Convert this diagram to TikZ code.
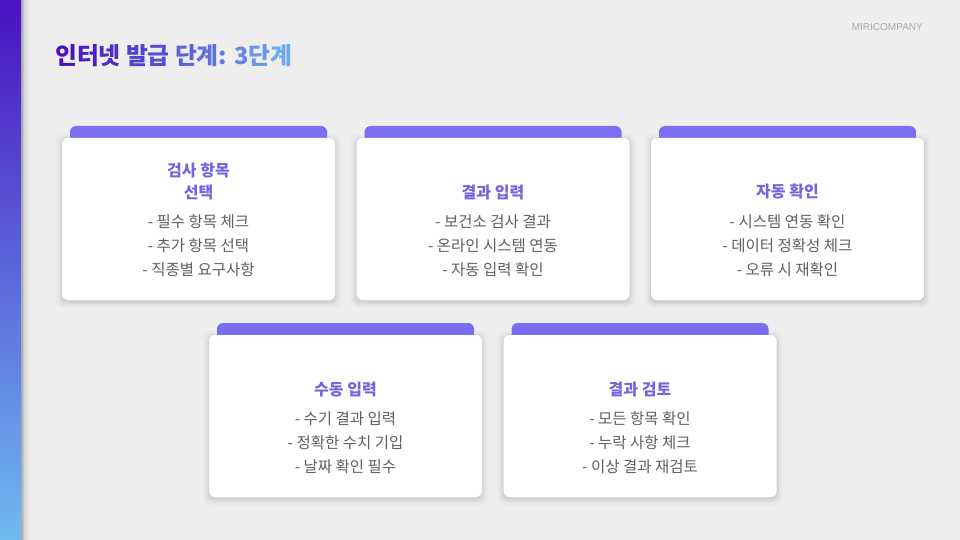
\documentclass[tikz,border=0pt]{standalone}
\usepackage{fontspec}
\setmainfont{Noto Sans CJK KR}
\newfontfamily\logofont{Liberation Sans}
\usetikzlibrary{positioning,calc}
\definecolor{pagebg}{HTML}{EEEEEE}
\definecolor{barTop}{HTML}{4A12C2}
\definecolor{barBot}{HTML}{6EBAF2}
\definecolor{tabcol}{HTML}{7B6EF0}
\definecolor{headcol}{HTML}{7365E2}
\definecolor{itemcol}{HTML}{606060}
\definecolor{logocol}{HTML}{AAAAAA}
\tikzset{
  card/.style={fill=white,rounded corners=6pt,minimum width=273pt,minimum height=162pt,inner sep=0pt},
  tab/.style={fill=tabcol,rounded corners=6pt},
  head/.style={font=\fontsize{16}{22}\selectfont\bfseries,text=headcol,align=center,inner sep=0pt},
  items/.style={font=\fontsize{15.5}{24}\selectfont,text=itemcol,align=center,inner sep=0pt},
}
% card with tab and soft shadow
\newcommand{\stepcard}[5]{%
  \foreach \s/\o in {6/0.02,4/0.025,2.5/0.03,1/0.04}
    \fill[black,opacity=\o,rounded corners=7pt] (#2-136.5-\s,#3-81-\s+2) rectangle (#2+136.5+\s,#3+81+\s+2);
  \fill[tab] (#2-128.5,#3-93) rectangle (#2+128.5,#3-70);
  \node[card] (#1) at (#2,#3) {};
  \node[items] (#1-items) at ($(#1.center)+(0,27)$) {#5};
  \node[head,anchor=south] (#1-head) at ($(#1-items.north)+(0,-15)$) {#4};
}
\begin{document}
\begin{tikzpicture}[x=1pt,y=-1pt]
\useasboundingbox (0,0) rectangle (960,540);
\fill[pagebg] (0,0) rectangle (960,540);
% side bar
\foreach \s/\o in {8/0.04,5/0.06,3/0.08,1.5/0.1}
  \fill[black,opacity=\o] (21,0) rectangle (21+\s,540);
\shade[top color=barTop,bottom color=barBot] (0,0) rectangle (21,540);

\node[anchor=east,font=\logofont\fontsize{10}{12}\selectfont,text=logocol,inner sep=0pt] (logo) at (923,27) {MIRICOMPANY};
\node[anchor=west,font=\fontsize{23.7}{28}\selectfont\bfseries,inner sep=0pt] (title) at (55,56)
  {\textcolor{barTop!100!barBot}{인}\textcolor{barTop!92!barBot}{터}\textcolor{barTop!84!barBot}{넷}
   \textcolor{barTop!72!barBot}{발}\textcolor{barTop!64!barBot}{급}
   \textcolor{barTop!52!barBot}{단}\textcolor{barTop!44!barBot}{계}\textcolor{barTop!38!barBot}{:}
   \textcolor{barTop!30!barBot}{3}\textcolor{barTop!20!barBot}{단}\textcolor{barTop!10!barBot}{계}};

\stepcard{c1}{198.5}{219}{검사 항목\\선택}{- 필수 항목 체크\\- 추가 항목 선택\\- 직종별 요구사항}
\stepcard{c2}{493}{219}{결과 입력}{- 보건소 검사 결과\\- 온라인 시스템 연동\\- 자동 입력 확인}
\stepcard{c3}{787.5}{219}{자동 확인}{- 시스템 연동 확인\\- 데이터 정확성 체크\\- 오류 시 재확인}
\stepcard{c4}{345.5}{416}{수동 입력}{- 수기 결과 입력\\- 정확한 수치 기입\\- 날짜 확인 필수}
\stepcard{c5}{640}{416}{결과 검토}{- 모든 항목 확인\\- 누락 사항 체크\\- 이상 결과 재검토}
\end{tikzpicture}
\end{document}
